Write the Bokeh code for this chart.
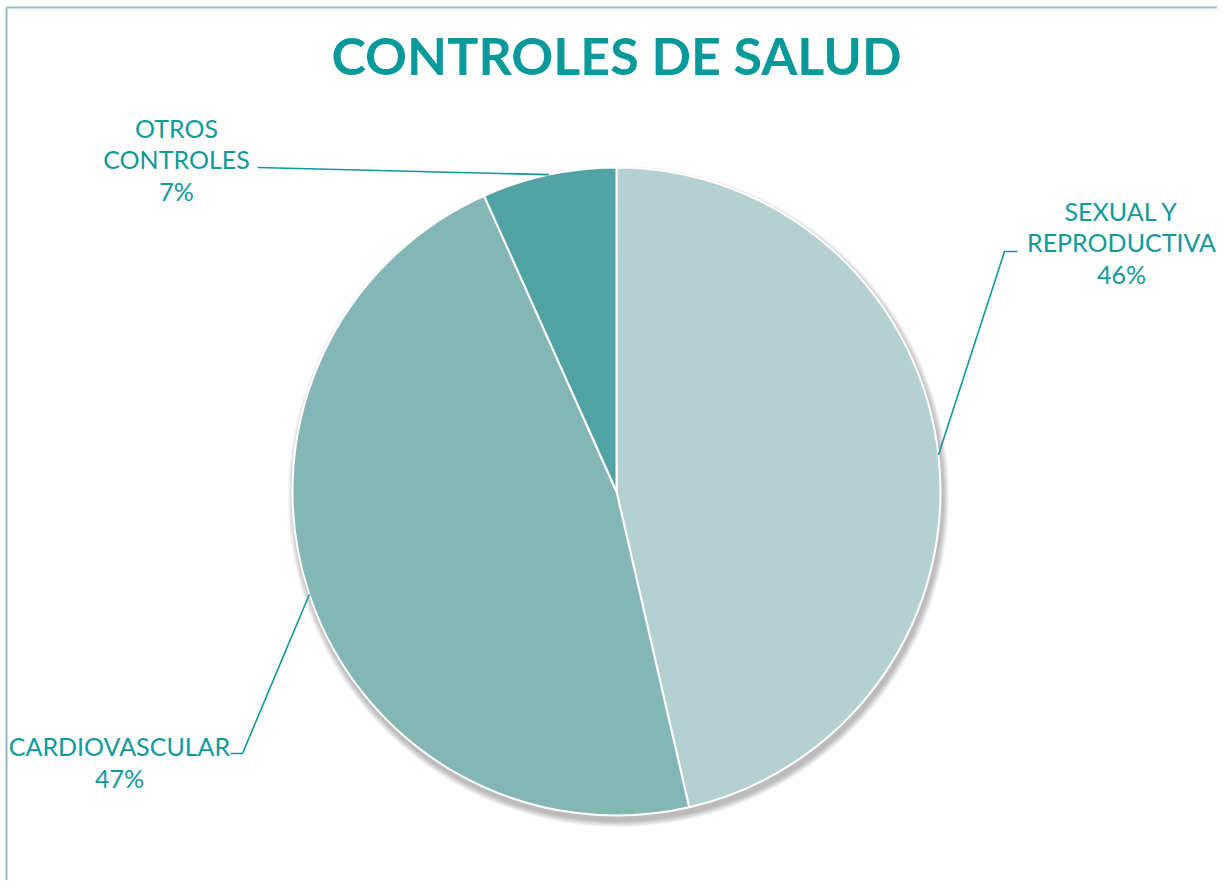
import math
from bokeh.plotting import figure
from bokeh.models import ColumnDataSource
from bokeh.core.properties import value
from bokeh.embed import file_html
from bokeh.resources import INLINE

# ---- data ----
categories = ["SEXUAL Y REPRODUCTIVA", "CARDIOVASCULAR", "OTROS CONTROLES"]
label_names = ["SEXUAL Y\nREPRODUCTIVA", "CARDIOVASCULAR", "OTROS\nCONTROLES"]
values = [46.4, 46.9, 6.7]
colors = ["#B5D0D0", "#83B6B5", "#52A3A4"]

TEAL = "#12999A"
W, H = 1217, 880
p = figure(width=W, height=H, x_range=(0, W), y_range=(0, H),
           output_backend="svg", toolbar_location=None, min_border=0,
           x_axis_location=None, y_axis_location=None)
p.grid.visible = False
p.outline_line_color = None
p.background_fill_color = "white"
p.border_fill_color = "white"

# frame lines (left and top only visible in reference)
p.segment(x0=[6, 6], y0=[0, H - 7], x1=[6, W], y1=[H - 7, H - 7],
          line_color="#8EC2C2", line_width=2)

cx, cy, r = 616, 389, 324

# soft shadow
for i in range(8):
    p.circle(x=[cx + 2], y=[cy - 5], radius=r + 1 + i * 0.8,
             fill_color="#000000", fill_alpha=0.035, line_color=None)

# wedges (clockwise from 12 o'clock)
total = sum(values)
starts, ends, mids = [], [], []
cum = 0.0
for v in values:
    a0 = math.pi / 2 - 2 * math.pi * cum / total
    cum += v
    a1 = math.pi / 2 - 2 * math.pi * cum / total
    starts.append(a0)
    ends.append(a1)
    mids.append((a0 + a1) / 2)

src = ColumnDataSource(dict(start=starts, end=ends, color=colors, cat=categories))
p.wedge(x=cx, y=cy, radius=r, start_angle="start", end_angle="end",
        direction="clock", fill_color="color", line_color="white",
        line_width=2, source=src)

# labels: layout positions (data px) and elbow points for leader lines
label_pos = [(1121, 638), (119, 118.5), (176, 721)]
elbows = [[(1004, 629), (1017, 629)],
          [(242, 127), (230, 127)],
          [(257, 713)]]

for name, v, (lx, ly), mid, el in zip(label_names, values, label_pos, mids, elbows):
    txt = f"{name}\n{round(v)}%"
    p.text(x=[lx], y=[ly], text=[txt], text_align="center",
           text_baseline="middle", text_font=value("Lato"),
           text_font_size="25px", text_color=TEAL, text_line_height=1.04)
    ex = cx + r * math.cos(mid)
    ey = cy + r * math.sin(mid)
    xs = [ex] + [pt[0] for pt in el]
    ys = [ey] + [pt[1] for pt in el]
    p.line(xs, ys, line_color=TEAL, line_width=1.6)

# title
p.text(x=[616], y=[826], text=["CONTROLES DE SALUD"], text_align="center",
       text_baseline="middle", text_font=value("Lato"), text_font_style="bold",
       text_font_size="52px", text_color="#089A9A")

open("out.html", "w").write(file_html(p, INLINE))
